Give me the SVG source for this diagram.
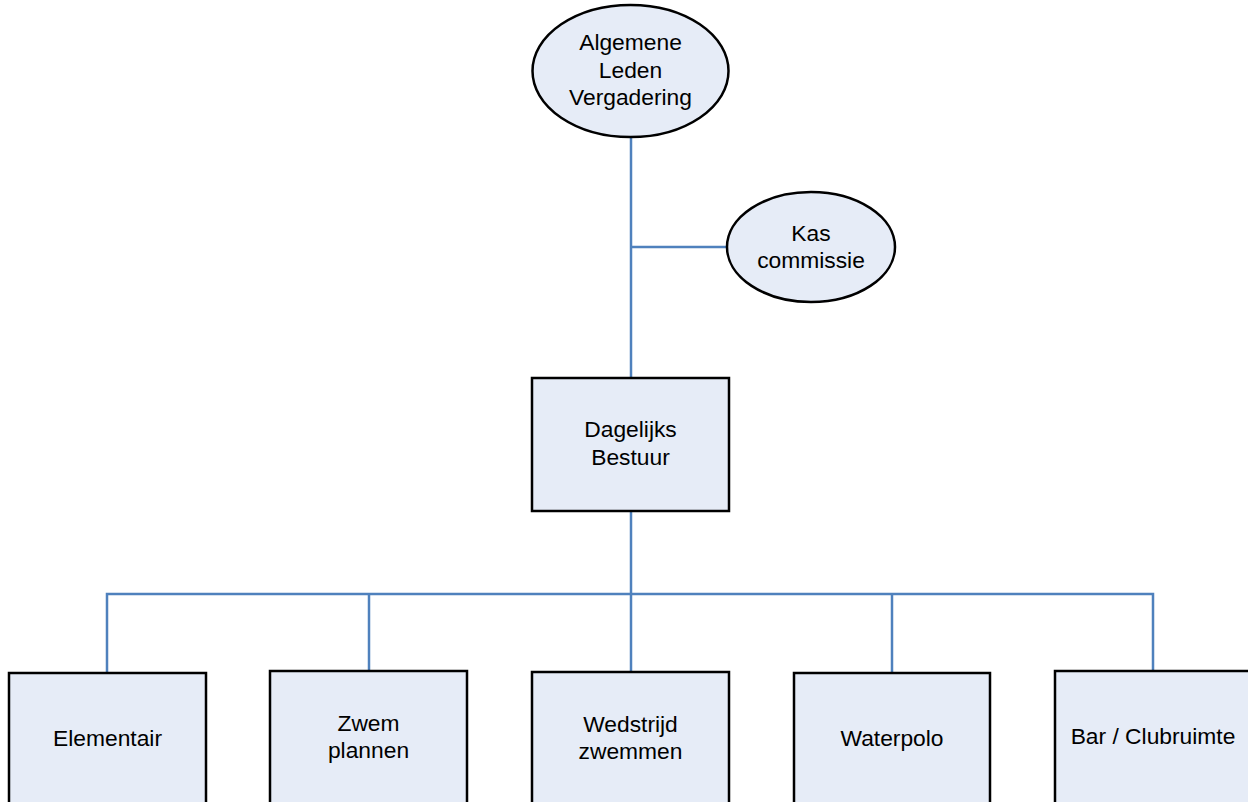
<svg xmlns="http://www.w3.org/2000/svg" width="1248" height="802" viewBox="0 0 1248 802">
<style>
.n{fill:#E6ECF7;stroke:#000;stroke-width:2.5}
.c{fill:none;stroke:#4F81BD;stroke-width:2.5}
text{font-family:"Liberation Sans",Arial,sans-serif;font-size:22.8px;fill:#000;text-anchor:middle}
</style>
<rect width="1248" height="802" fill="#fff"/>
<g id="connectors">
<line class="c" x1="631" y1="137" x2="631" y2="378"/>
<line class="c" x1="631" y1="247" x2="728" y2="247"/>
<line class="c" x1="631" y1="511" x2="631" y2="672"/>
<polyline class="c" points="107,673 107,594 1153,594 1153,671"/>
<line class="c" x1="369" y1="594" x2="369" y2="671"/>
<line class="c" x1="892" y1="594" x2="892" y2="673"/>
</g>
<g id="alv">
<ellipse class="n" cx="630.5" cy="71" rx="98" ry="66"/>
<text x="630.5" y="50">Algemene</text>
<text x="630.5" y="78">Leden</text>
<text x="630.5" y="105">Vergadering</text>
</g>
<g id="kas">
<ellipse class="n" cx="811" cy="247" rx="84" ry="55"/>
<text x="811" y="241">Kas</text>
<text x="811" y="268">commissie</text>
</g>
<g id="db">
<rect class="n" x="532" y="378" width="197" height="133"/>
<text x="630.5" y="437">Dagelijks</text>
<text x="630.5" y="465">Bestuur</text>
</g>
<g id="elementair">
<rect class="n" x="9" y="673" width="197" height="200"/>
<text x="107.5" y="746">Elementair</text>
</g>
<g id="zwemplannen">
<rect class="n" x="270" y="671" width="197" height="200"/>
<text x="368.5" y="731">Zwem</text>
<text x="368.5" y="758">plannen</text>
</g>
<g id="wedstrijd">
<rect class="n" x="532" y="672" width="197" height="200"/>
<text x="630.5" y="732">Wedstrijd</text>
<text x="630.5" y="759">zwemmen</text>
</g>
<g id="waterpolo">
<rect class="n" x="794" y="673" width="196" height="200"/>
<text x="892" y="746">Waterpolo</text>
</g>
<g id="bar">
<rect class="n" x="1055" y="671" width="197" height="200"/>
<text x="1153" y="744">Bar / Clubruimte</text>
</g>
</svg>
